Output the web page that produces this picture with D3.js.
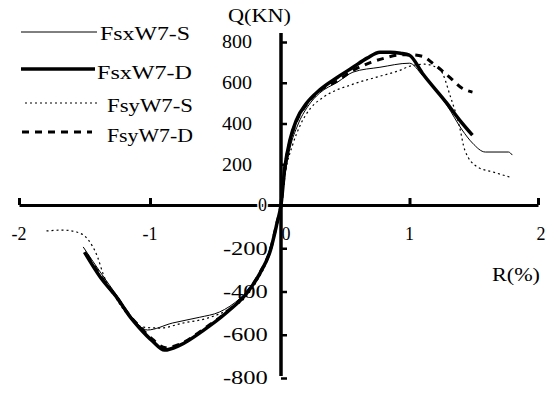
<!DOCTYPE html>
<html>
<head>
<meta charset="utf-8">
<script src="https://cdn.jsdelivr.net/npm/d3@7"></script>
<style>
  body { margin: 0; background: #fff; }
  text { font-family: "Liberation Serif", "Times New Roman", serif; fill: #000; }
</style>
</head>
<body>
<script>
// Chart size
const WIDTH = 549;
const HEIGHT = 393;

// Series names
const seriesNames = ['FsxW7-S', 'FsxW7-D', 'FsyW7-S', 'FsyW7-D'];

// Drift R(%) and load Q(KN) for each series
const fsxSR = [-1.51, -1.38, -1.25, -1.15, -1.02, -0.83, -0.62, -0.47, -0.31, -0.20, -0.12, -0.06, -0.02, 0,
  0.025, 0.07, 0.13, 0.21, 0.30, 0.44, 0.56, 0.77, 1.0, 1.10, 1.29, 1.41, 1.49, 1.59, 1.77, 1.80];
const fsxSQ = [-194, -310, -421, -509, -578, -546, -519, -495, -430, -356, -264, -153, -60, 0,
  123, 279, 392, 485, 549, 603, 652, 676, 696, 637, 490, 368, 304, 260, 260, 245];

const fsxDR = [-1.50, -1.38, -1.25, -1.15, -1.08, -0.98, -0.89, -0.77, -0.60, -0.41, -0.26, -0.16, -0.08, -0.03, 0,
  0.03, 0.07, 0.12, 0.20, 0.30, 0.44, 0.56, 0.67, 0.77, 0.85, 0.93, 1.0, 1.10, 1.29, 1.39, 1.49];
const fsxDQ = [-218, -333, -430, -519, -569, -630, -671, -648, -583, -495, -407, -315, -208, -83, 0,
  186, 319, 417, 500, 564, 627, 676, 721, 750, 750, 745, 735, 647, 500, 417, 343];

const fsySR = [-1.79, -1.67, -1.56, -1.47, -1.40, -1.36, -1.25, -1.15, -1.05, -0.92, -0.75, -0.56, -0.41, -0.27, -0.18, -0.10, -0.05, 0,
  0.03, 0.09, 0.15, 0.23, 0.33, 0.56, 0.77, 0.93, 1.0, 1.12, 1.24, 1.32, 1.39, 1.43, 1.53, 1.65, 1.78];
const fsySQ = [-120, -116, -125, -162, -241, -315, -440, -523, -565, -569, -546, -523, -486, -426, -347, -245, -125, 0,
  147, 294, 392, 475, 529, 593, 632, 662, 681, 691, 662, 529, 382, 270, 186, 162, 137];

const fsyDR = [-1.48, -1.37, -1.25, -1.15, -1.07, -0.98, -0.88, -0.76, -0.60, -0.41, -0.26, -0.16, -0.08, -0.03, 0,
  0.03, 0.07, 0.12, 0.20, 0.30, 0.44, 0.56, 0.70, 0.80, 0.90, 1.0, 1.10, 1.18, 1.32, 1.41, 1.49];
const fsyDQ = [-231, -335, -432, -515, -568, -622, -660, -640, -578, -492, -404, -312, -205, -80, 0,
  180, 312, 410, 495, 560, 610, 660, 700, 720, 735, 738, 730, 696, 623, 573, 554];

// Tick values and labels
const xTicks = [-2, -1, 1, 2];
const xTickLabels = ['-2', '-1', '0', '1', '2'];
const xLabelValues = [-2, -1, 0, 1, 2];
const yTicks = [-800, -600, -400, -200, 0, 200, 400, 600, 800];

// Line styles per series
const styles = [
  { width: 1, dash: null },
  { width: 3.5, dash: null },
  { width: 1.2, dash: '2,3' },
  { width: 3, dash: '7,6' }
];

function initCanvas() {
  return d3.select('body')
    .append('svg')
    .attr('width', WIDTH)
    .attr('height', HEIGHT);
}

// the scan is not perfectly linear, so use two-piece scales
const x = d3.scaleLinear().domain([-2, 0, 2]).range([19, 281, 538]);
const y = d3.scaleLinear().domain([-800, 0, 800]).range([378, 205, 42]);

function drawAxes(svg) {
  // x axis, ticks pointing up
  const xAxis = svg.append('g')
    .attr('transform', `translate(0, ${y(0)})`)
    .call(d3.axisTop(x).tickValues(xTicks).tickSize(7).tickSizeOuter(0).tickFormat(''));
  xAxis.select('.domain').attr('stroke', '#000').attr('stroke-width', 3);
  xAxis.selectAll('.tick line').attr('stroke', '#000').attr('stroke-width', 3);

  // y axis, ticks pointing right
  const yAxis = svg.append('g')
    .attr('transform', `translate(${x(0)}, 0)`)
    .call(d3.axisRight(y).tickValues(yTicks).tickSize(6).tickSizeOuter(0).tickFormat(''));
  yAxis.select('.domain').attr('stroke', '#000').attr('stroke-width', 3.5)
    .attr('d', `M0,33V376`);
  yAxis.selectAll('.tick line').attr('stroke', '#000').attr('stroke-width', 2.5);

  // y tick labels
  yTicks.forEach(v => {
    const t = svg.append('text')
      .attr('y', y(v))
      .attr('dy', '0.35em')
      .attr('font-size', 18);
    if (v === 0) {
      t.attr('x', 267).attr('text-anchor', 'end')
        .attr('paint-order', 'stroke').attr('stroke', '#fff').attr('stroke-width', 3)
        .text(v);
    } else if (v < 0) {
      t.append('tspan').attr('x', 223).text('-');
      t.append('tspan').attr('x', 231).text(Math.abs(v));
      t.attr('textLength', 45).attr('lengthAdjust', 'spacingAndGlyphs');
    } else {
      t.attr('x', 222).attr('textLength', 30).attr('lengthAdjust', 'spacingAndGlyphs').text(v);
    }
  });

  // x tick labels
  xLabelValues.forEach((v, i) => {
    svg.append('text')
      .attr('x', v === 0 ? 286 : x(v) + (v === 2 ? 3 : 0))
      .attr('y', 240)
      .attr('text-anchor', 'middle')
      .attr('font-size', 18)
      .text(xTickLabels[i]);
  });

  // axis titles
  svg.append('text').attr('x', 228).attr('y', 22).attr('font-size', 18)
    .attr('textLength', 63).attr('lengthAdjust', 'spacingAndGlyphs').text('Q(KN)');
  svg.append('text').attr('x', 492).attr('y', 281).attr('font-size', 18)
    .attr('textLength', 48).attr('lengthAdjust', 'spacingAndGlyphs').text('R(%)');
}

function drawSeries(svg) {
  const allR = [fsxSR, fsxDR, fsySR, fsyDR];
  const allQ = [fsxSQ, fsxDQ, fsySQ, fsyDQ];
  const line = d3.line()
    .x(d => x(d[0]))
    .y(d => y(d[1]))
    .curve(d3.curveMonotoneX);

  // draw thin ones last so they stay visible
  [1, 3, 0, 2].forEach(i => {
    const pts = allR[i].map((r, k) => [r, allQ[i][k]]);
    svg.append('path')
      .datum(pts)
      .attr('fill', 'none')
      .attr('stroke', '#000')
      .attr('stroke-width', styles[i].width)
      .attr('stroke-dasharray', styles[i].dash)
      .attr('stroke-linejoin', 'round')
      .attr('d', line);
  });
}

function drawLegend(svg) {
  const rows = [
    { y: 32, x1: 21, x2: 97, tx: 100, ty: 40, len: 90 },
    { y: 69, x1: 21, x2: 95, tx: 97, ty: 79, len: 95 },
    { y: 103, x1: 25, x2: 100, tx: 107, ty: 112, len: 86 },
    { y: 132, x1: 22, x2: 92, tx: 107, ty: 142, len: 86 }
  ];
  rows.forEach((r, i) => {
    svg.append('line')
      .attr('x1', r.x1).attr('x2', r.x2)
      .attr('y1', r.y).attr('y2', r.y)
      .attr('stroke', '#000')
      .attr('stroke-width', styles[i].width)
      .attr('stroke-dasharray', styles[i].dash);
    svg.append('text')
      .attr('x', r.tx).attr('y', r.ty)
      .attr('font-size', 19)
      .attr('textLength', r.len)
      .attr('lengthAdjust', 'spacingAndGlyphs')
      .text(seriesNames[i]);
  });
}

function main() {
  const svg = initCanvas();
  drawAxes(svg);
  drawSeries(svg);
  drawLegend(svg);
}

main();
</script>
</body>
</html>
